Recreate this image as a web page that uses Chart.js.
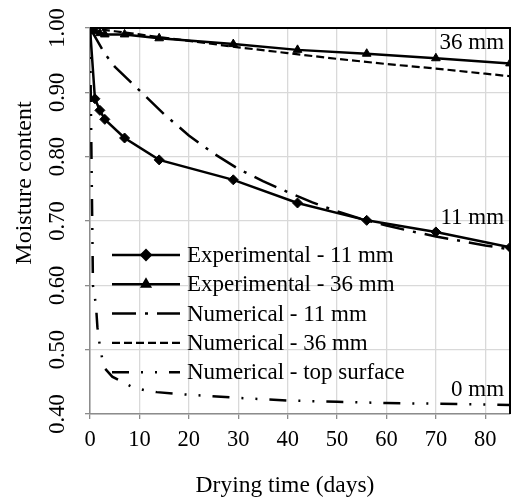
<!DOCTYPE html>
<html>
<head>
<meta charset="utf-8">
<script src="https://cdn.jsdelivr.net/npm/chart.js@4.4.1/dist/chart.umd.min.js"></script>
<style>
  html, body { margin: 0; padding: 0; background: #fff; }
  #wrap { width: 516px; height: 502px; }
</style>
</head>
<body>
<div id="wrap"><canvas id="moistureChart"></canvas></div>
<script>
// measured points (days, moisture content)
const expDays = [0, 1, 2, 3, 7, 14, 29, 42, 56, 70, 85];
const exp11 = [1.0, 0.89, 0.872, 0.858, 0.829, 0.795, 0.764, 0.728, 0.701, 0.683, 0.659];
const exp36 = [1.0, 0.995, 0.992, 0.99, 0.99, 0.984, 0.975, 0.966, 0.96, 0.953, 0.945];

// model curves
const num11Days = [0, 3, 5, 10, 15, 20, 25, 30, 35, 40, 45, 50, 55, 60, 65, 70, 75, 80, 85];
const num11 = [1.0, 0.96, 0.94, 0.903, 0.866, 0.833, 0.805, 0.781, 0.762, 0.745, 0.729, 0.715, 0.703, 0.693, 0.684, 0.676, 0.669, 0.662, 0.656];

const num36Days = [0, 5, 10, 20, 30, 40, 50, 60, 70, 80, 85];
const num36 = [1.0, 0.995, 0.99, 0.98, 0.97, 0.961, 0.952, 0.944, 0.937, 0.929, 0.925];

const surfDays = [0, 0.6, 1.2, 1.5, 2, 2.5, 3, 4.5, 8.5, 11, 13.5, 18, 30, 40, 50, 60, 70, 85];
const surf = [1.0, 0.6, 0.57, 0.535, 0.505, 0.485, 0.471, 0.458, 0.442, 0.437, 0.434, 0.431, 0.425, 0.421, 0.419, 0.417, 0.416, 0.414];

const seriesLabels = ['Experimental - 11 mm', 'Experimental - 36 mm', 'Numerical - 11 mm', 'Numerical - 36 mm', 'Numerical - top surface'];

const curveNotes = ['36 mm', '11 mm', '0 mm'];
const curveNoteValues = [0.977, 0.705, 0.437];

const xTitle = 'Drying time (days)';
const yTitle = 'Moisture content';

const xMin = 0, xMax = 85;
const yMin = 0.4, yMax = 1.0;

const serif = '"Liberation Serif", "Times New Roman", serif';

function pts(xs, ys) {
    return xs.map((x, i) => ({ x: x, y: ys[i] }));
}

// y tick labels are turned on their side, titles sit off-centre like the original
const sideText = {
    id: 'sideText',
    afterDraw(chart) {
        const ys = chart.scales.y;
        const a = chart.chartArea;
        const c = chart.ctx;
        c.save();
        c.fillStyle = '#000';
        c.textAlign = 'center';
        c.textBaseline = 'middle';
        c.font = '22.5px ' + serif;
        ys.ticks.forEach(t => {
            const py = ys.getPixelForValue(t.value);
            c.save();
            c.translate(ys.right - 32, py);
            c.rotate(-Math.PI / 2);
            c.fillText(t.value.toFixed(2), 0, 0);
            c.restore();
        });

        c.font = '24px ' + serif;
        c.save();
        c.translate(25, a.top + 155);
        c.rotate(-Math.PI / 2);
        c.fillText(yTitle, 0, 0);
        c.restore();

        c.font = '23.5px ' + serif;
        c.fillText(xTitle, a.left + 195, a.bottom + 72);
        c.restore();
    }
};

// black frame on top and right, labels near the curves, legend inside the plot
const extras = {
    id: 'extras',
    afterDatasetsDraw(chart) {
        const c = chart.ctx;
        const a = chart.chartArea;
        const xs = chart.scales.x;
        const ys = chart.scales.y;

        c.save();
        c.strokeStyle = '#000';
        c.lineWidth = 2;
        c.beginPath();
        c.moveTo(a.left, a.top);
        c.lineTo(a.right, a.top);
        c.lineTo(a.right, a.bottom);
        c.stroke();

        c.font = '23px ' + serif;
        c.fillStyle = '#000';
        c.textAlign = 'right';
        c.textBaseline = 'middle';
        curveNotes.forEach((txt, i) => {
            c.fillText(txt, xs.getPixelForValue(83.8), ys.getPixelForValue(curveNoteValues[i]));
        });

        // legend
        c.textAlign = 'left';
        chart.data.datasets.forEach((ds, i) => {
            const y = a.top + 227 + i * 29.3;
            const x0 = a.left + 22, x1 = a.left + 90;
            c.save();
            c.strokeStyle = ds.borderColor;
            c.lineWidth = ds.borderWidth;
            c.setLineDash(ds.borderDash || []);
            c.beginPath();
            c.moveTo(x0, y);
            c.lineTo(x1, y);
            c.stroke();
            c.restore();
            if (ds.pointRadius > 0) {
                c.save();
                c.fillStyle = '#000';
                c.strokeStyle = '#000';
                Chart.helpers.drawPoint(c, { pointStyle: ds.pointStyle, radius: ds.pointRadius, rotation: 0, borderWidth: 1 }, (x0 + x1) / 2, y);
                c.restore();
            }
            c.fillText(ds.label, x1 + 7, y + 1);
        });
        c.restore();
    }
};

new Chart(document.getElementById('moistureChart'), {
    type: 'line',
    data: {
        datasets: [{
            label: seriesLabels[0],
            data: pts(expDays, exp11),
            borderColor: '#000',
            backgroundColor: '#000',
            borderWidth: 2.5,
            pointStyle: 'rectRot',
            pointRadius: 5,
            pointBorderWidth: 1
        }, {
            label: seriesLabels[1],
            data: pts(expDays, exp36),
            borderColor: '#000',
            backgroundColor: '#000',
            borderWidth: 2.5,
            pointStyle: 'triangle',
            pointRadius: 5,
            pointBorderWidth: 1
        }, {
            label: seriesLabels[2],
            data: pts(num11Days, num11),
            borderColor: '#000',
            borderWidth: 2.5,
            borderDash: [24, 9, 3, 9],
            pointRadius: 0
        }, {
            label: seriesLabels[3],
            data: pts(num36Days, num36),
            borderColor: '#000',
            borderWidth: 2.2,
            borderDash: [8, 4],
            pointRadius: 0
        }, {
            label: seriesLabels[4],
            data: pts(surfDays, surf),
            borderColor: '#000',
            borderWidth: 2.5,
            borderDash: [17, 12, 2, 12, 2, 12],
            pointRadius: 0
        }]
    },
    options: {
        responsive: true,
        maintainAspectRatio: false,
        animation: false,
        layout: { padding: { top: 28, right: 2, left: 0, bottom: 0 } },
        plugins: {
            legend: { display: false },
            tooltip: { enabled: false }
        },
        scales: {
            x: {
                type: 'linear',
                min: xMin,
                max: xMax,
                afterFit: s => { s.height = 88; },
                ticks: {
                    stepSize: 10,
                    includeBounds: false,
                    padding: 8,
                    color: '#000',
                    font: { family: serif, size: 22.5 }
                },
                grid: { color: '#d9d9d9', tickColor: '#8c8c8c', tickLength: 5, lineWidth: 1.3 },
                border: { color: '#8c8c8c', width: 1.5 }
            },
            y: {
                min: yMin,
                max: yMax,
                afterFit: s => { s.width = 90; },
                ticks: { stepSize: 0.1, display: false },
                grid: { color: '#d9d9d9', tickColor: '#8c8c8c', tickLength: 5, lineWidth: 1.3 },
                border: { color: '#8c8c8c', width: 1.5 }
            }
        }
    },
    plugins: [sideText, extras]
});
</script>
</body>
</html>
